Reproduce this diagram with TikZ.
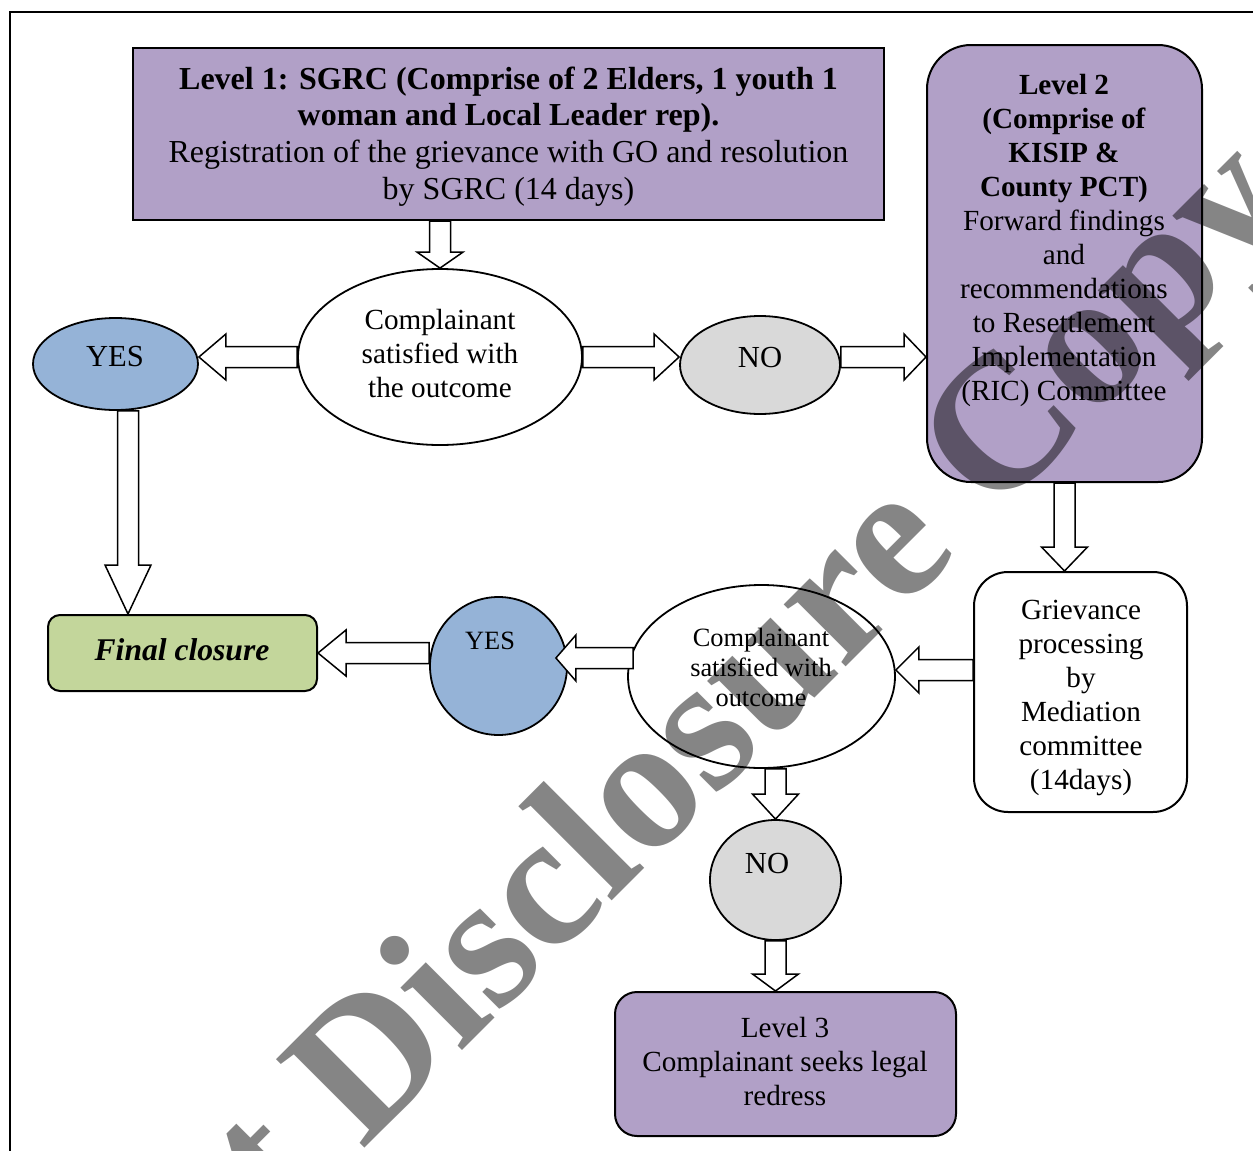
\documentclass[tikz,border=0pt]{standalone}
\usepackage{fontspec}
\setmainfont{Liberation Serif}
\usetikzlibrary{shapes.geometric,calc}
\definecolor{lvl}{HTML}{B1A0C7}
\definecolor{yesc}{HTML}{95B3D7}
\definecolor{noc}{HTML}{D9D9D9}
\definecolor{fin}{HTML}{C3D69B}
\definecolor{wmc}{HTML}{858585}
\newcommand\arrsh{5.25pt}
\newcommand\arrhd{11.5pt}
\newcommand\mfont{\fontsize{14.6}{17}\selectfont}
\newcommand\lfont{\fontsize{16}{18.4}\selectfont}
\newcommand\yfont{\fontsize{15.3}{17}\selectfont}
\newcommand\ffont{\fontsize{15.8}{18}\selectfont}
\newcommand\sfont{\fontsize{13.2}{15}\selectfont}
\newcommand\wmfont{\fontsize{95.5}{100}\selectfont\bfseries}
\newcommand\barrow[3][12pt]{%
  \coordinate (bS) at #2; \coordinate (bE) at #3;
  \coordinate (bB) at ($(bE)!#1!(bS)$);
  \draw[barrowst] ($(bS)!\arrsh!90:(bE)$) -- ($(bB)!\arrsh!-90:(bS)$) -- ($(bB)!\arrhd!-90:(bS)$) -- (bE) -- ($(bB)!\arrhd!90:(bS)$) -- ($(bB)!\arrsh!90:(bS)$) -- ($(bS)!\arrsh!-90:(bE)$) -- cycle;}
\begin{document}
\begin{tikzpicture}[x=0.5pt,y=-0.5pt,
  box/.style={draw, line width=1pt, fill=lvl, inner sep=0pt, align=center},
  ell/.style={ellipse, draw, line width=0.9pt, inner sep=0pt, align=center},
  txt/.style={inner sep=0pt, align=center},
  barrowst/.style={draw=black, fill=white, line width=0.75pt, line join=miter}]
\useasboundingbox (0,0) rectangle (1253,1151);
\draw[line width=1pt] (10,1160) -- (10,12) -- (1260,12);

\node[box, minimum width=375.5pt, minimum height=86pt] (l1) at (508.5,134) {};
\node[txt, font=\lfont] (l1t) at (508.5,136.5)
  {\textbf{Level 1: SGRC (Comprise of 2 Elders, 1 youth 1}\\\textbf{woman and Local Leader rep).}\\Registration of the grievance with GO and resolution\\by SGRC (14 days)};

\node[box, rounded corners=22pt, minimum width=137.5pt, minimum height=218.5pt] (l2) at (1064.5,263.5) {};
\node[txt, font=\mfont] (l2t) at (1064,240)
  {\textbf{Level 2}\\\textbf{(Comprise of}\\\textbf{KISIP \&}\\\textbf{County PCT)}\\Forward findings\\and\\recommendations\\to Resettlement\\Implementation\\(RIC) Committee};

\node[ell, fill=white, minimum width=142pt, minimum height=88pt] (e1) at (440,357) {};
\node[txt, font=\mfont] (e1t) at (440,354) {Complainant\\satisfied with\\the outcome};

\node[ell, fill=yesc, minimum width=82.5pt, minimum height=46pt] (yes1) at (115.5,364) {};
\node[txt, font=\yfont] (yes1t) at (115,357) {YES};
\node[ell, fill=noc, minimum width=80pt, minimum height=49pt] (no1) at (760,365) {};
\node[txt, font=\yfont] (no1t) at (760,358) {NO};

\node[box, fill=fin, rounded corners=6pt, minimum width=134.5pt, minimum height=38pt] (fc) at (182.5,653) {};
\node[txt, font=\ffont] (fct) at (182,650) {\textbf{\textit{Final closure}}};

\node[box, fill=white, rounded corners=17pt, minimum width=106.5pt, minimum height=120pt] (gp) at (1080.5,692) {};
\node[txt, font=\mfont] (gpt) at (1081,698) {Grievance\\processing\\by\\Mediation\\committee\\(14days)};

\node[ell, fill=white, minimum width=133.5pt, minimum height=91.5pt] (e2) at (761.5,676.5) {};
\node[txt, font=\sfont] (e2t) at (761,667) {Complainant\\satisfied with\\outcome};

\node[ell, fill=yesc, minimum width=68.5pt, minimum height=69pt] (yes2) at (498.5,666) {};
\node[txt, font=\sfont] (yes2t) at (490,641) {YES};

\node[ell, fill=noc, minimum width=65.5pt, minimum height=60pt] (no2) at (775.5,880) {};
\node[txt, font=\yfont] (no2t) at (767,864) {NO};

\node[box, rounded corners=11pt, minimum width=170.5pt, minimum height=72pt] (l3) at (785.5,1064) {};
\node[txt, font=\mfont] (l3t) at (785,1061) {Level 3\\Complainant seeks legal\\redress};

% block arrows
\barrow[8pt]{(e1.north |- l1.south)}{(e1.north)}
\barrow[13.5pt]{(e1.west)}{(e1.west -| yes1.east)}
\barrow[12.5pt]{(e1.east)}{(e1.east -| no1.west)}
\barrow[11pt]{(e1.east -| no1.east)}{(e1.east -| l2.west)}
\coordinate (a5) at ($(yes1.south)+(12.5,0)$);
\barrow[24.5pt]{(a5)}{(a5 |- fc.north)}
\barrow[12pt]{(l2.south)}{(l2.south |- gp.north)}
\coordinate (a7) at ($(e2.east)+(0,-6.5)$);
\barrow[11.5pt]{(a7 -| gp.west)}{(a7)}
\coordinate (a8) at ($(e2.west)+(6,-18.5)$);
\coordinate (a8e) at (a8 -| yes2.east);
\barrow[10pt]{(a8)}{($(a8e)+(-12,0)$)}
\barrow[14pt]{(yes2.west |- fc.east)}{(fc.east)}
\barrow[12.5pt]{(no2.north |- e2.south)}{(no2.north)}
\barrow[8.5pt]{(no2.south)}{(no2.south |- l3.north)}

% watermark
\begin{scope}[blend mode=multiply]
\clip (0,0) rectangle (1253,1151);
\node[rotate=45, anchor=base west, inner sep=0pt, text=wmc, font=\wmfont] (wm) at (362,1151) {\llap{ct }Disclosure Copy};
\end{scope}
\end{tikzpicture}
\end{document}
